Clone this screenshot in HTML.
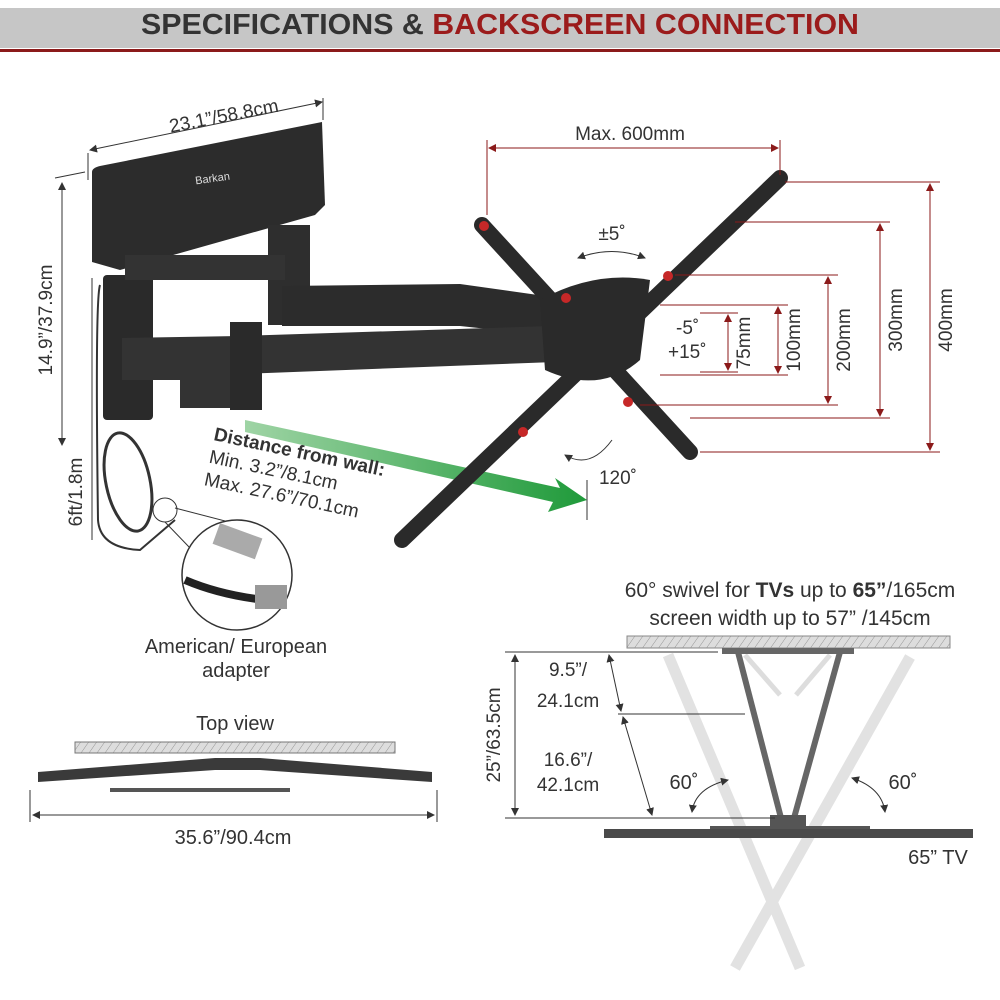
<!DOCTYPE html>
<html><head><meta charset="utf-8"><style>
html,body{margin:0;padding:0;background:#fff;}
svg{display:block;}
text{font-family:"Liberation Sans",sans-serif;fill:#333;}
</style></head><body>
<svg width="1000" height="1000" viewBox="0 0 1000 1000" xmlns="http://www.w3.org/2000/svg">
<defs>
<pattern id="hatch" width="8" height="12" patternUnits="userSpaceOnUse" patternTransform="skewX(-35)">
<rect width="8" height="12" fill="#ddd"/><line x1="0" y1="0" x2="0" y2="12" stroke="#888" stroke-width="1"/>
</pattern>
<marker id="ar" markerWidth="8" markerHeight="8" refX="7" refY="4" orient="auto-start-reverse" markerUnits="userSpaceOnUse"><path d="M0,0 L8,4 L0,8 z" fill="#8b1a1a"/></marker>
<marker id="ak" markerWidth="8" markerHeight="8" refX="7" refY="4" orient="auto-start-reverse" markerUnits="userSpaceOnUse"><path d="M0,0 L8,4 L0,8 z" fill="#333"/></marker>
<linearGradient id="gr" x1="0" y1="0" x2="1" y2="0"><stop offset="0" stop-color="#9fd4a5"/><stop offset="1" stop-color="#1f9a3a"/></linearGradient>
</defs>
<rect x="0" y="8" width="1000" height="40" fill="#c6c6c6"/>
<rect x="0" y="49" width="1000" height="3" fill="#8b1a1a"/>
<text x="500" y="34" text-anchor="middle" font-size="29" font-weight="bold" style="font-family:'Liberation Sans Narrow','Liberation Sans',sans-serif" textLength="718" lengthAdjust="spacingAndGlyphs"><tspan fill="#333">SPECIFICATIONS &amp; </tspan><tspan fill="#9b1b1b">BACKSCREEN CONNECTION</tspan></text>

<line x1="88" y1="153" x2="88" y2="180" stroke="#333"/><line x1="323" y1="98" x2="323" y2="120" stroke="#333"/>
<line x1="90" y1="150" x2="322" y2="102" stroke="#333" marker-start="url(#ak)" marker-end="url(#ak)"/>
<text x="225" y="122" text-anchor="middle" font-size="19" transform="rotate(-11 225 122)">23.1”/58.8cm</text>
<line x1="62" y1="183" x2="62" y2="445" stroke="#333" marker-start="url(#ak)" marker-end="url(#ak)"/>
<line x1="55" y1="178" x2="85" y2="172" stroke="#333"/>
<text x="52" y="320" text-anchor="middle" font-size="19" transform="rotate(-90 52 320)">14.9”/37.9cm</text>
<line x1="92" y1="278" x2="92" y2="540" stroke="#333"/>
<text x="82" y="492" text-anchor="middle" font-size="19" transform="rotate(-90 82 492)">6ft/1.8m</text>

<path d="M92,172 Q92,168 100,166 L322,122 L325,205 L315,215 L120,270 L92,262 Z" fill="#2c2c2c"/>
<text x="213" y="182" font-size="11" style="fill:#ddd" transform="rotate(-8 213 182)" text-anchor="middle">Barkan</text>
<rect x="103" y="275" width="50" height="145" rx="4" fill="#2a2a2a"/>
<rect x="268" y="225" width="42" height="100" fill="#2e2e2e"/>
<rect x="125" y="255" width="160" height="25" fill="#333"/>
<polygon points="282,286 460,284 545,296 545,335 460,326 282,326" fill="#2c2c2c"/>
<polygon points="122,338 240,336 550,326 555,362 240,374 240,408 180,408 180,380 122,380" fill="#333"/>
<rect x="230" y="322" width="32" height="88" fill="#2a2a2a"/>
<path d="M100,285 Q95,300 98,520 Q100,548 140,550 L175,520" fill="none" stroke="#333" stroke-width="2"/>
<ellipse cx="128" cy="482" rx="22" ry="50" fill="none" stroke="#333" stroke-width="3" transform="rotate(-12 128 482)"/>
<circle cx="165" cy="510" r="12" fill="none" stroke="#333"/>

<polygon points="245,420 560,488 555,478 587,500 548,512 553,502 245,432" fill="url(#gr)"/>
<g transform="rotate(12 213 440)">
<text x="213" y="440" font-size="19" font-weight="bold">Distance from wall:</text>
<text x="213" y="463" font-size="19">Min. 3.2”/8.1cm</text>
<text x="213" y="486" font-size="19">Max. 27.6”/70.1cm</text>
</g>

<line x1="482" y1="225" x2="690" y2="452" stroke="#2a2a2a" stroke-width="16" stroke-linecap="round"/>
<line x1="780" y1="178" x2="402" y2="540" stroke="#2a2a2a" stroke-width="16" stroke-linecap="round"/>
<path d="M540,300 Q595,270 650,280 L640,360 Q600,395 545,370 Z" fill="#2a2a2a"/>
<g fill="#c62828"><circle cx="484" cy="226" r="5"/><circle cx="566" cy="298" r="5"/><circle cx="668" cy="276" r="5"/><circle cx="628" cy="402" r="5"/><circle cx="523" cy="432" r="5"/></g>
<text x="612" y="240" text-anchor="middle" font-size="19">±5˚</text>
<path d="M578,258 Q612,245 645,258" fill="none" stroke="#333" marker-start="url(#ak)" marker-end="url(#ak)"/>
<text x="676" y="334" font-size="19">-5˚</text>
<text x="668" y="358" font-size="19">+15˚</text>
<text x="618" y="484" text-anchor="middle" font-size="19">120˚</text>
<path d="M565,455 Q590,470 612,440" fill="none" stroke="#333" marker-start="url(#ak)"/>
<line x1="587" y1="480" x2="587" y2="520" stroke="#333"/>

<g stroke="#8b1a1a" fill="none">
<line x1="487" y1="140" x2="487" y2="215"/><line x1="780" y1="140" x2="780" y2="175"/>
<line x1="489" y1="148" x2="778" y2="148" marker-start="url(#ar)" marker-end="url(#ar)"/>
<line x1="785" y1="182" x2="940" y2="182"/><line x1="700" y1="452" x2="940" y2="452"/>
<line x1="930" y1="184" x2="930" y2="450" marker-start="url(#ar)" marker-end="url(#ar)"/>
<line x1="735" y1="222" x2="890" y2="222"/><line x1="690" y1="418" x2="890" y2="418"/>
<line x1="880" y1="224" x2="880" y2="416" marker-start="url(#ar)" marker-end="url(#ar)"/>
<line x1="675" y1="275" x2="838" y2="275"/><line x1="640" y1="405" x2="838" y2="405"/>
<line x1="828" y1="277" x2="828" y2="403" marker-start="url(#ar)" marker-end="url(#ar)"/>
<line x1="660" y1="305" x2="788" y2="305"/><line x1="660" y1="375" x2="788" y2="375"/>
<line x1="778" y1="307" x2="778" y2="373" marker-start="url(#ar)" marker-end="url(#ar)"/>
<line x1="700" y1="313" x2="738" y2="313"/><line x1="700" y1="372" x2="738" y2="372"/>
<line x1="728" y1="315" x2="728" y2="370" marker-start="url(#ar)" marker-end="url(#ar)"/>
</g>
<text x="630" y="140" text-anchor="middle" font-size="19">Max. 600mm</text>
<text x="952" y="320" text-anchor="middle" font-size="19" transform="rotate(-90 952 320)">400mm</text>
<text x="902" y="320" text-anchor="middle" font-size="19" transform="rotate(-90 902 320)">300mm</text>
<text x="850" y="340" text-anchor="middle" font-size="19" transform="rotate(-90 850 340)">200mm</text>
<text x="800" y="340" text-anchor="middle" font-size="19" transform="rotate(-90 800 340)">100mm</text>
<text x="750" y="343" text-anchor="middle" font-size="19" transform="rotate(-90 750 343)">75mm</text>

<line x1="165" y1="522" x2="190" y2="548" stroke="#333"/><line x1="175" y1="508" x2="260" y2="530" stroke="#333"/>
<circle cx="237" cy="575" r="55" fill="#fff" stroke="#333" stroke-width="1.5"/>
<rect x="215" y="530" width="45" height="22" fill="#aaa" transform="rotate(20 237 541)"/>
<path d="M185,580 Q220,595 265,600" stroke="#222" stroke-width="8" fill="none"/>
<rect x="255" y="585" width="32" height="24" fill="#999"/>
<text x="236" y="653" text-anchor="middle" font-size="20">American/ European</text>
<text x="236" y="677" text-anchor="middle" font-size="20">adapter</text>

<text x="235" y="730" text-anchor="middle" font-size="20">Top view</text>
<rect x="75" y="742" width="320" height="11" fill="url(#hatch)" stroke="#777"/>
<path d="M38,772 L215,758 L260,758 L432,772 L432,782 L260,770 L215,770 L38,782 Z" fill="#3a3a3a"/>
<rect x="110" y="788" width="180" height="4" fill="#555"/>
<line x1="30" y1="790" x2="30" y2="822" stroke="#333"/><line x1="437" y1="790" x2="437" y2="822" stroke="#333"/>
<line x1="33" y1="815" x2="434" y2="815" stroke="#333" marker-start="url(#ak)" marker-end="url(#ak)"/>
<text x="233" y="844" text-anchor="middle" font-size="20">35.6”/90.4cm</text>

<text x="790" y="597" text-anchor="middle" font-size="21">60° swivel for <tspan font-weight="bold">TVs</tspan> up to <tspan font-weight="bold">65”</tspan>/165cm</text>
<text x="790" y="625" text-anchor="middle" font-size="21">screen width up to 57” /145cm</text>
<rect x="627" y="636" width="323" height="12" fill="url(#hatch)" stroke="#888"/>
<g stroke-linecap="butt">
<line x1="668" y1="655" x2="800" y2="968" stroke="#e2e2e2" stroke-width="11"/>
<line x1="910" y1="657" x2="735" y2="968" stroke="#e2e2e2" stroke-width="11"/>
<line x1="738" y1="652" x2="781" y2="818" stroke="#666" stroke-width="6"/>
<line x1="840" y1="652" x2="794" y2="818" stroke="#666" stroke-width="6"/>
<line x1="745" y1="655" x2="780" y2="695" stroke="#ddd" stroke-width="5"/>
<line x1="830" y1="655" x2="796" y2="695" stroke="#ddd" stroke-width="5"/>
</g>
<rect x="722" y="648" width="132" height="6" fill="#666"/>
<rect x="710" y="826" width="160" height="4" fill="#555"/>
<rect x="770" y="815" width="36" height="12" fill="#555"/>
<rect x="604" y="829" width="369" height="9" fill="#4a4a4a"/>
<text x="938" y="864" text-anchor="middle" font-size="20">65” TV</text>
<text x="684" y="789" text-anchor="middle" font-size="20">60˚</text>
<text x="903" y="789" text-anchor="middle" font-size="20">60˚</text>
<path d="M692,812 Q695,788 728,780" fill="none" stroke="#333" marker-start="url(#ak)" marker-end="url(#ak)"/>
<path d="M885,812 Q882,788 852,778" fill="none" stroke="#333" marker-start="url(#ak)" marker-end="url(#ak)"/>
<g stroke="#333" fill="none">
<line x1="505" y1="652" x2="718" y2="652"/><line x1="618" y1="714" x2="745" y2="714"/><line x1="505" y1="818" x2="775" y2="818"/>
<line x1="515" y1="655" x2="515" y2="815" marker-start="url(#ak)" marker-end="url(#ak)"/>
<line x1="609" y1="655" x2="621" y2="711" marker-start="url(#ak)" marker-end="url(#ak)"/>
<line x1="623" y1="717" x2="652" y2="815" marker-start="url(#ak)" marker-end="url(#ak)"/>
</g>
<text x="500" y="735" text-anchor="middle" font-size="19" transform="rotate(-90 500 735)">25”/63.5cm</text>
<text x="568" y="676" text-anchor="middle" font-size="19">9.5”/</text>
<text x="568" y="707" text-anchor="middle" font-size="19">24.1cm</text>
<text x="568" y="766" text-anchor="middle" font-size="19">16.6”/</text>
<text x="568" y="791" text-anchor="middle" font-size="19">42.1cm</text>
</svg>
</body></html>
